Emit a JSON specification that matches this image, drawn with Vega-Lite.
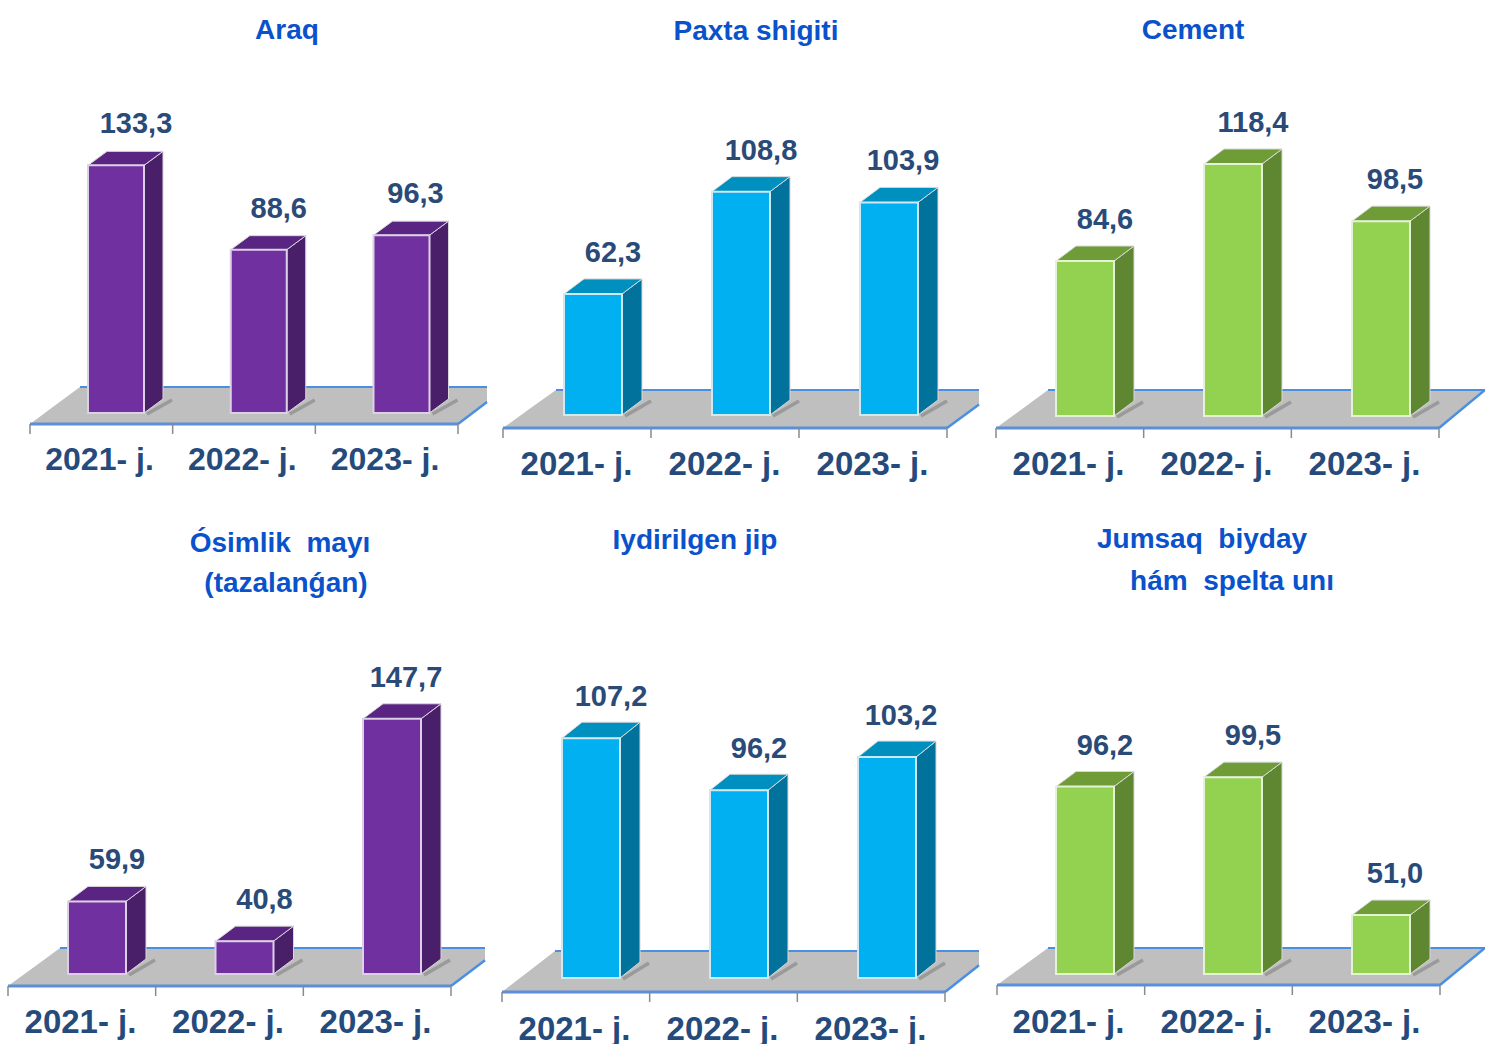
{
"$schema":"https://vega.github.io/schema/vega-lite/v6.json",
"padding":0,
"background":"white",
"config":{"view":{"stroke":null},"text":{"font":"Liberation Sans","fontWeight":"bold"},"header":{"labels":false,"title":null,"labelFontSize":0,"labelPadding":0,"titlePadding":0,"labelExpr":"''"}},
"data":{"values":[
{"product":"Araq","year":2021,"value":133.3},{"product":"Araq","year":2022,"value":88.6},{"product":"Araq","year":2023,"value":96.3},
{"product":"Paxta shigiti","year":2021,"value":62.3},{"product":"Paxta shigiti","year":2022,"value":108.8},{"product":"Paxta shigiti","year":2023,"value":103.9},
{"product":"Cement","year":2021,"value":84.6},{"product":"Cement","year":2022,"value":118.4},{"product":"Cement","year":2023,"value":98.5},
{"product":"Ósimlik mayı (tazalanǵan)","year":2021,"value":59.9},{"product":"Ósimlik mayı (tazalanǵan)","year":2022,"value":40.8},{"product":"Ósimlik mayı (tazalanǵan)","year":2023,"value":147.7},
{"product":"Iydirilgen jip","year":2021,"value":107.2},{"product":"Iydirilgen jip","year":2022,"value":96.2},{"product":"Iydirilgen jip","year":2023,"value":103.2},
{"product":"Jumsaq biyday hám spelta unı","year":2021,"value":96.2},{"product":"Jumsaq biyday hám spelta unı","year":2022,"value":99.5},{"product":"Jumsaq biyday hám spelta unı","year":2023,"value":51.0}
]},
"transform":[
{"calculate":"indexof(['Araq','Paxta shigiti','Cement','Ósimlik mayı (tazalanǵan)','Iydirilgen jip','Jumsaq biyday hám spelta unı'],datum.product)","as":"i"},
{"calculate":"[0,495,990,0,495,990][datum.i]","as":"X0"},
{"calculate":"[0,0,0,522,522,522][datum.i]","as":"Y0"},
{"calculate":"[116,593,1085,97,591,1085][datum.i]","as":"c"},
{"calculate":"[142.75,148,148,147.5,148,148][datum.i]","as":"s"},
{"calculate":"[56,58,58,58,58,58][datum.i]","as":"w"},
{"calculate":"[413,415,416,974,978,974][datum.i]","as":"base"},
{"calculate":"[1.886,2.2,2.87,2.08,4.73,2.845][datum.i]","as":"k"},
{"calculate":"[2,7.27,30.6,25,56.5,30.3][datum.i]","as":"v0"},
{"calculate":"[19,20,20,20,20,20][datum.i]","as":"dx"},
{"calculate":"[14,15,15,15,16,15][datum.i]","as":"dy"},
{"calculate":"[30,503,996,8,502,997][datum.i]","as":"L"},
{"calculate":"[458,947,1439,451,945,1440][datum.i]","as":"R"},
{"calculate":"[80,556,1048,60,555,1048][datum.i]","as":"BL"},
{"calculate":"[49,52,46,50,52,45][datum.i]","as":"dxr"},
{"calculate":"[487,979,1485,485,979,1485][datum.i]","as":"clip"},
{"calculate":"[424,428,428,986,992,985][datum.i]","as":"front"},
{"calculate":"[387,390,390,948,951,948][datum.i]","as":"back"},
{"calculate":"[460,465,465,1023,1030,1023][datum.i]","as":"ly"},
{"calculate":"[32,33,33,33,33,33][datum.i]","as":"lsize"},
{"calculate":"['#7030a0','#00b0f0','#92d250'][datum.i%3]","as":"fF"},
{"calculate":"['#5a2483','#0090c0','#6f9c36'][datum.i%3]","as":"fT"},
{"calculate":"['#4a1f6a','#00729c','#5f8630'][datum.i%3]","as":"fS"},
{"calculate":"['#dcd0e6','#cfe8f2','#e6f2d8'][datum.i%3]","as":"fL"},
{"calculate":"replace(format(datum.value,'.1f'),'.',',')","as":"vlabel"},
{"calculate":"datum.year+'- j.'","as":"ylabel"}
],
"facet":{"field":"product","type":"nominal","sort":["Araq","Paxta shigiti","Cement","Ósimlik mayı (tazalanǵan)","Iydirilgen jip","Jumsaq biyday hám spelta unı"],"header":{"title":null,"labels":false,"labelFontSize":0,"labelPadding":0,"titlePadding":0,"labelExpr":"''"}},
"columns":3,
"spacing":0,
"bounds":"flush",
"resolve":{"scale":{"x":"independent","y":"independent"}},
"spec":{
"width":495,"height":522,
"encoding":{
"x":{"field":"x","type":"quantitative","scale":{"zero":false,"nice":false},"axis":null,"stack":null},
"y":{"field":"y","type":"quantitative","scale":{"zero":false,"nice":false},"axis":null,"stack":null}
},
"layer":[
{"mark":{"type":"point","opacity":0,"size":0,"filled":true},
"transform":[{"filter":"datum.year==2021"},{"calculate":"[0,1]","as":"t"},{"flatten":["t"]},
{"calculate":"2021+(datum.X0+495*datum.t-datum.c)/datum.s","as":"x"},
{"calculate":"datum.v0+(datum.base-(datum.Y0+522*datum.t))/datum.k","as":"y"}]},
{"mark":{"type":"area","orient":"horizontal","fill":"#bfbfbf"},
"transform":[{"filter":"datum.year==2021"},{"calculate":"[0,min(1,(datum.clip-datum.R)/datum.dxr),1]","as":"t"},{"flatten":["t"]},
{"calculate":"2021+(datum.L+datum.t*(datum.BL-datum.L)-datum.c)/datum.s","as":"x"},
{"calculate":"2021+(min(datum.clip,datum.R+datum.t*datum.dxr)-datum.c)/datum.s","as":"x2"},
{"calculate":"datum.v0+(datum.base-(datum.front+datum.t*(datum.back-datum.front)))/datum.k","as":"y"}],
"encoding":{"x2":{"field":"x2"}}},
{"mark":{"type":"rule","color":"#4a8fe0","strokeWidth":2},
"transform":[{"filter":"datum.year==2021"},
{"calculate":"2021+(datum.BL-datum.c)/datum.s","as":"x"},
{"calculate":"2021+(datum.clip-datum.c)/datum.s","as":"x2"},
{"calculate":"datum.v0+(datum.base-datum.back)/datum.k","as":"y"}],
"encoding":{"x2":{"field":"x2"}}},
{"mark":{"type":"rule","color":"#5b8fd8","strokeWidth":3},
"transform":[{"filter":"datum.year==2021"},
{"calculate":"2021+(datum.L-datum.c)/datum.s","as":"x"},
{"calculate":"2021+(datum.R-datum.c)/datum.s","as":"x2"},
{"calculate":"datum.v0+(datum.base-datum.front)/datum.k","as":"y"}],
"encoding":{"x2":{"field":"x2"}}},
{"mark":{"type":"rule","color":"#4a8fe0","strokeWidth":2.5},
"transform":[{"filter":"datum.year==2021"},
{"calculate":"min(1,(datum.clip-datum.R)/datum.dxr)","as":"f"},
{"calculate":"2021+(datum.R-datum.c)/datum.s","as":"x"},
{"calculate":"2021+(datum.R+datum.f*datum.dxr-datum.c)/datum.s","as":"x2"},
{"calculate":"datum.v0+(datum.base-datum.front)/datum.k","as":"y"},
{"calculate":"datum.v0+(datum.base-(datum.front+datum.f*(datum.back-datum.front)))/datum.k","as":"y2"}],
"encoding":{"x2":{"field":"x2"},"y2":{"field":"y2"}}},
{"mark":{"type":"rule","color":"#8a8a8a","strokeWidth":1.5},
"transform":[{"filter":"datum.year==2021"},{"calculate":"[0,1,2,3]","as":"t"},{"flatten":["t"]},
{"calculate":"2021+(datum.L+datum.t*(datum.R-datum.L)/3-datum.c)/datum.s","as":"x"},
{"calculate":"datum.v0+(datum.base-datum.front)/datum.k","as":"y"},
{"calculate":"datum.v0+(datum.base-datum.front-10)/datum.k","as":"y2"}],
"encoding":{"y2":{"field":"y2"}}},
{"mark":{"type":"rule","color":"#555555","strokeWidth":3.5,"opacity":0.35},
"transform":[
{"calculate":"datum.year+(datum.w/2+3)/datum.s","as":"x"},
{"calculate":"datum.year+(datum.w/2+datum.dx+9)/datum.s","as":"x2"},
{"calculate":"datum.v0-1/datum.k","as":"y"},
{"calculate":"datum.v0+(datum.dy-1)/datum.k","as":"y2"}],
"encoding":{"x2":{"field":"x2"},"y2":{"field":"y2"}}},
{"mark":{"type":"area","orient":"vertical","stroke":"#d8d8d8","strokeWidth":1},
"transform":[{"calculate":"[0,1]","as":"t"},{"flatten":["t"]},
{"calculate":"datum.year+(datum.w/2+datum.t*datum.dx)/datum.s","as":"x"},
{"calculate":"datum.value+datum.t*datum.dy/datum.k","as":"y"},
{"calculate":"datum.v0+datum.t*datum.dy/datum.k","as":"y2"}],
"encoding":{"y2":{"field":"y2"},"detail":{"field":"year"},"fill":{"field":"fS","type":"nominal","scale":null}}},
{"mark":{"type":"area","orient":"horizontal","stroke":"#d8d8d8","strokeWidth":1},
"transform":[{"calculate":"[0,1]","as":"t"},{"flatten":["t"]},
{"calculate":"datum.year+(-datum.w/2+datum.t*datum.dx)/datum.s","as":"x"},
{"calculate":"datum.year+(datum.w/2+datum.t*datum.dx)/datum.s","as":"x2"},
{"calculate":"datum.value+datum.t*datum.dy/datum.k","as":"y"}],
"encoding":{"x2":{"field":"x2"},"detail":{"field":"year"},"fill":{"field":"fT","type":"nominal","scale":null}}},
{"mark":{"type":"rect","strokeWidth":2},
"transform":[
{"calculate":"datum.year-datum.w/2/datum.s","as":"x"},
{"calculate":"datum.year+datum.w/2/datum.s","as":"x2"},
{"calculate":"datum.value","as":"y"},
{"calculate":"datum.v0","as":"y2"}],
"encoding":{"x2":{"field":"x2"},"y2":{"field":"y2"},
"fill":{"field":"fF","type":"nominal","scale":null},
"stroke":{"field":"fL","type":"nominal","scale":null}}},
{"mark":{"type":"text","fontSize":29,"color":"#2a4a78","align":"center","baseline":"middle"},
"transform":[
{"calculate":"datum.year+(datum.year==2023?14:20)/datum.s","as":"x"},
{"calculate":"datum.value+41/datum.k","as":"y"}],
"encoding":{"text":{"field":"vlabel"}}},
{"mark":{"type":"text","color":"#254a7c","align":"center","baseline":"middle"},
"transform":[
{"calculate":"datum.year-16.5/datum.s","as":"x"},
{"calculate":"datum.v0+(datum.base-datum.ly)/datum.k","as":"y"}],
"encoding":{"text":{"field":"ylabel"},"size":{"field":"lsize","type":"quantitative","scale":null}}},
{"mark":{"type":"text","fontSize":28,"color":"#0a52cc","align":"center","baseline":"middle"},
"transform":[{"filter":"datum.year==2021"},
{"calculate":"[[{t:'Araq',x:287,y:31}],[{t:'Paxta shigiti',x:756,y:32}],[{t:'Cement',x:1193,y:31}],[{t:'Ósimlik\u00a0\u00a0mayı',x:280,y:544},{t:'(tazalanǵan)',x:286,y:584}],[{t:'Iydirilgen jip',x:695,y:541}],[{t:'Jumsaq\u00a0\u00a0biyday',x:1202,y:540},{t:'hám\u00a0\u00a0spelta unı',x:1232,y:582}]][datum.i]","as":"tl"},
{"flatten":["tl"]},
{"calculate":"datum.tl.t","as":"ttext"},
{"calculate":"2021+(datum.tl.x-datum.c)/datum.s","as":"x"},
{"calculate":"datum.v0+(datum.base-datum.tl.y)/datum.k","as":"y"}],
"encoding":{"text":{"field":"ttext"}}}
]
}
}
